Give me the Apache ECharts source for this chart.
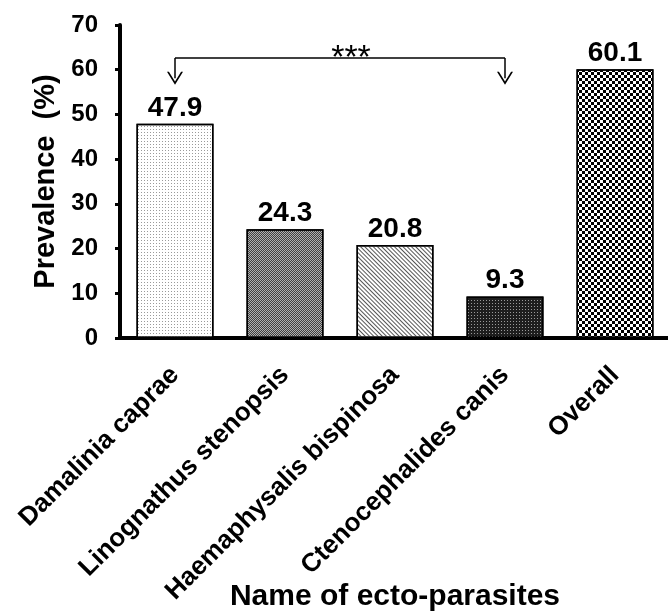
<!DOCTYPE html>
<html>
<head>
<meta charset="utf-8">
<title>Prevalence of ecto-parasites</title>
<script src="https://cdn.jsdelivr.net/npm/echarts@6/dist/echarts.min.js"></script>
<style>
  html, body { margin: 0; padding: 0; background: #fff; }
  #chart { width: 668px; height: 611px; }
</style>
</head>
<body>
<div id="chart"></div>
<script>
// data
var parasites = ['Damalinia caprae', 'Linognathus stenopsis', 'Haemaphysalis bispinosa', 'Ctenocephalides canis', 'Overall'];
var prevalence = [47.9, 24.3, 20.8, 9.3, 60.1];
var yTicks = [0, 10, 20, 30, 40, 50, 60, 70];

// significance bracket between the first and fourth bar
var sigPair = [0, 3];
var sigLevel = 62.6;
var sigTip = 58.1;
var sigText = '***';

var FONT = 'Liberation Sans, Arial, sans-serif';
var chevron = 'path://M0,10 L5,0 L10,10 L8.8,10 L5,2.4 L1.2,10 Z';

// fill patterns, one per bar (base colour + decal)
var fills = [
  { color: '#ffffff', decal: { symbol: 'rect', symbolSize: 1, dashArrayX: [1, 2], dashArrayY: [1, 2], color: '#9a9a9a' } },
  { color: '#b0b0b0', decal: { symbol: 'rect', symbolSize: 1, dashArrayX: [[1, 1], [0, 1, 1, 0]], dashArrayY: [1, 0], color: '#404040' } },
  { color: '#ffffff', decal: { symbol: 'rect', symbolSize: 1, dashArrayX: [1, 0], dashArrayY: [1, 2], rotation: Math.PI / 4, color: '#555555' } },
  { color: '#1e1e1e', decal: { symbol: 'rect', symbolSize: 1, dashArrayX: [1, 2], dashArrayY: [1, 2], color: '#9a9a9a' } },
  { color: '#ffffff', decal: { symbol: 'rect', symbolSize: 1, dashArrayX: [[3, 3], [0, 3, 3, 0]], dashArrayY: [3, 0], color: '#000000' } }
];

var chart = echarts.init(document.getElementById('chart'));

var barData = prevalence.map(function(v, i) {
  return {
    value: v,
    itemStyle: {
      color: fills[i].color,
      decal: fills[i].decal,
      borderColor: '#000',
      borderWidth: 1.5
    }
  };
});

chart.setOption({
  animation: false,
  backgroundColor: '#fff',
  grid: { left: 120, top: 25, width: 550, height: 313, outerBoundsMode: 'none' },
  xAxis: {
    type: 'category',
    data: parasites,
    name: 'Name of ecto-parasites',
    nameLocation: 'middle',
    nameGap: 244,
    nameMoveOverlap: false,
    nameTextStyle: { color: '#000', fontFamily: FONT, fontWeight: 'bold', fontSize: 30 },
    axisLine: { lineStyle: { color: '#000', width: 4 } },
    axisTick: { length: 6, lineStyle: { color: '#000', width: 3 } },
    axisLabel: {
      interval: 0,
      rotate: 45,
      margin: 33,
      color: '#000',
      fontFamily: FONT,
      fontWeight: 'bold',
      fontSize: 26
    }
  },
  yAxis: {
    type: 'value',
    min: yTicks[0],
    max: yTicks[yTicks.length - 1],
    interval: 10,
    name: 'Prevalence  (%)',
    nameLocation: 'middle',
    nameGap: 60,
    nameMoveOverlap: false,
    nameTextStyle: { color: '#000', fontFamily: FONT, fontWeight: 'bold', fontSize: 29 },
    axisLine: { show: true, lineStyle: { color: '#000', width: 4 } },
    axisTick: { show: true, length: 5, lineStyle: { color: '#000', width: 3 } },
    axisLabel: { margin: 22, color: '#000', fontFamily: FONT, fontWeight: 'bold', fontSize: 24 },
    splitLine: { show: false }
  },
  series: [{
    type: 'bar',
    data: barData,
    barWidth: 77,
    label: {
      show: true,
      position: 'top',
      distance: 2,
      color: '#000',
      fontFamily: FONT,
      fontWeight: 'bold',
      fontSize: 28
    },
    markLine: {
      silent: true,
      symbol: 'none',
      lineStyle: { color: '#000', width: 1.5, type: 'solid' },
      label: { show: false },
      data: [
        [
          { coord: [sigPair[0], sigLevel], symbol: 'none',
            label: { show: true, position: 'middle', formatter: sigText, color: '#000', fontFamily: FONT, fontSize: 34, distance: -18, offset: [11, 0] } },
          { coord: [sigPair[1], sigLevel], symbol: 'none' }
        ],
        [
          { coord: [sigPair[0], sigLevel], symbol: 'none' },
          { coord: [sigPair[0], sigTip], symbol: chevron, symbolSize: [16, 13] }
        ],
        [
          { coord: [sigPair[1], sigLevel], symbol: 'none' },
          { coord: [sigPair[1], sigTip], symbol: chevron, symbolSize: [16, 13] }
        ]
      ]
    }
  }]
});
</script>
</body>
</html>
